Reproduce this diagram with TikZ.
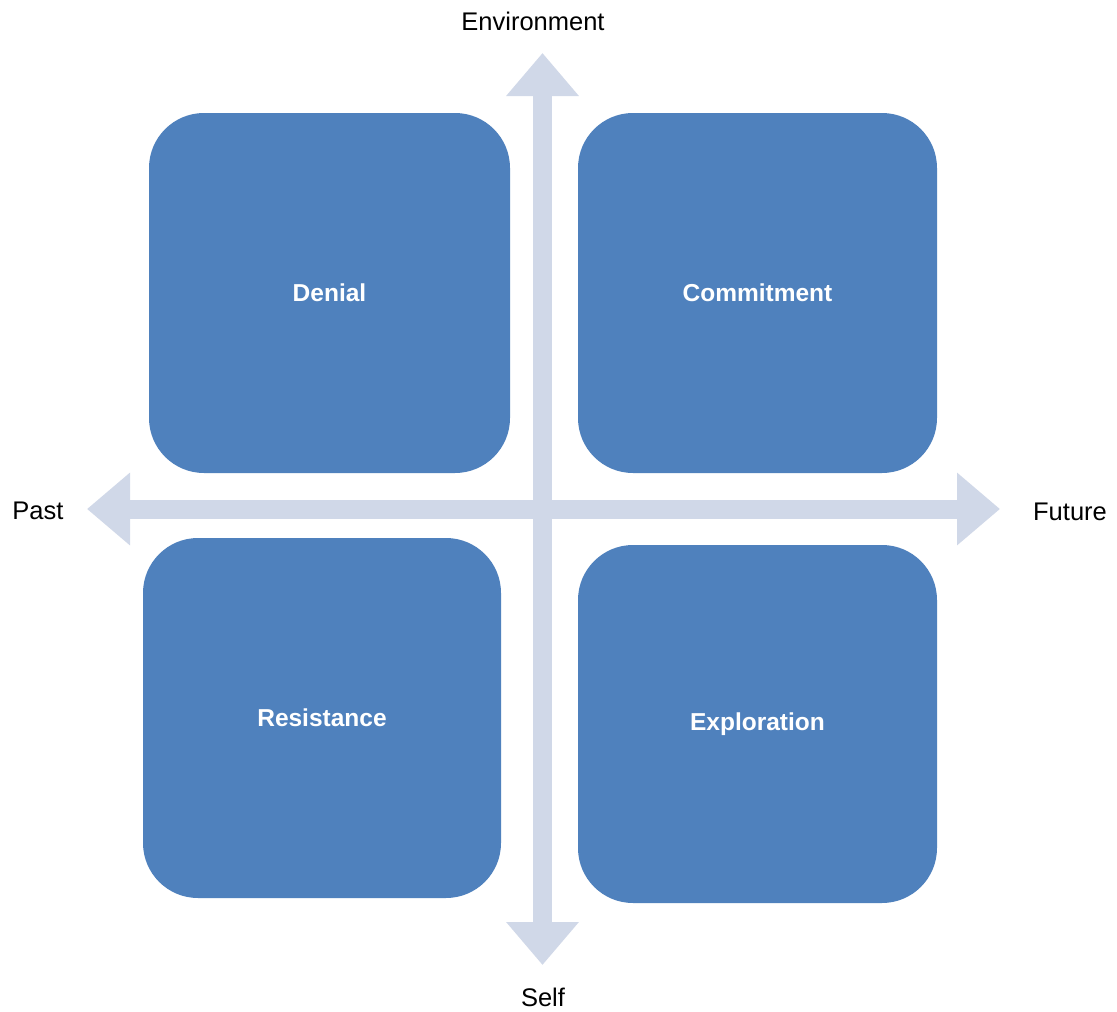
\documentclass[tikz,border=0pt]{standalone}
\usepackage{fontspec}
\setmainfont{Liberation Sans}
\usetikzlibrary{arrows.meta}
\definecolor{boxblue}{HTML}{4F81BD}
\definecolor{axisgray}{HTML}{D0D8E8}
\begin{document}
\begin{tikzpicture}[x=1pt,y=-1pt,
  quad/.style={draw=none, fill=boxblue, rounded corners=55pt, inner sep=0pt,
    text=white, font=\fontsize{24.5}{29}\selectfont\bfseries},
  axis/.style={draw=axisgray, line width=19pt,
    {Triangle[width=70pt,length=43pt]}-{Triangle[width=70pt,length=43pt]}},
  axlabel/.style={text=black, inner sep=0pt, font=\fontsize{25.5}{30}\selectfont}]
\useasboundingbox (0,0) rectangle (1117,1012);
\fill[white] (0,0) rectangle (1117,1012);
% axes
\coordinate (top) at (542.5,53);
\coordinate (bot) at (542.5,965);
\coordinate (lft) at (87,509);
\coordinate (rgt) at (1000,509);
\draw[axis] (top) -- (bot);
\draw[axis] (lft) -- (rgt);
% quadrants
\node[quad, minimum width=361pt, minimum height=360pt] (denial) at (329.5,293) {Denial};
\node[quad, minimum width=359pt, minimum height=360pt] (commit) at (757.5,293) {Commitment};
\node[quad, minimum width=358pt, minimum height=360pt] (resist) at (322,718) {Resistance};
\node[quad, minimum width=359pt, minimum height=358pt] (explore) at (757.5,724) {Exploration};
% labels
\node[axlabel] (env) at (533,21) {Environment};
\node[axlabel] (past) at (38,511) {Past};
\node[axlabel] (future) at (1070,512) {Future};
\node[axlabel] (self) at (543,997) {Self};
\end{tikzpicture}
\end{document}
